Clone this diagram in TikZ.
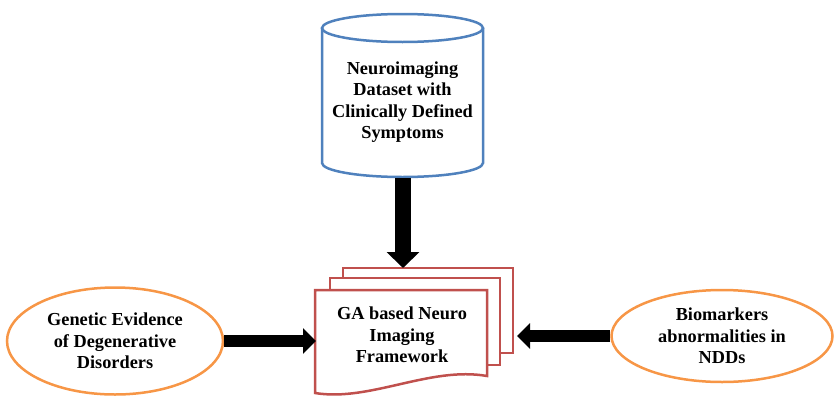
\documentclass[tikz,border=0pt]{standalone}
\usepackage{fontspec}
\setmainfont{Liberation Serif}
\usetikzlibrary{arrows.meta,shapes.geometric}
\definecolor{cblue}{HTML}{4F81BD}
\definecolor{corange}{HTML}{F79646}
\definecolor{cred}{HTML}{C0504D}
\begin{document}
\begin{tikzpicture}[x=1pt,y=-1pt,
  lbl/.style={font=\bfseries\fontsize{18.3}{21.5}\selectfont, align=center, text=black},
  oval/.style={ellipse, draw=corange, line width=2.5pt, fill=white, inner sep=0pt},
  vblock/.style={line width=16pt, -{Triangle[width=32pt, length=16pt]}},
  hblock/.style={line width=12pt, -{Triangle[width=25pt, length=13pt]}},
  ]
\useasboundingbox (0,0) rectangle (834,399);
% cylinder
\draw[cblue, line width=2.5pt, fill=white] (322,28) -- (322,163) arc[start angle=180, end angle=360, x radius=80.5, y radius=-14] -- (483,28);
\draw[cblue, line width=2.5pt, fill=white] (402.5,28) ellipse[x radius=80.5, y radius=14];
\node[lbl] (ds) at (402.5,102) {Neuroimaging\\Dataset with\\Clinically Defined\\Symptoms};
\coordinate (dsbot) at (403,178);
% multidocument
\draw[cred, line width=2.5pt, fill=white] (343,268) rectangle (513,353);
\draw[cred, line width=2.5pt, fill=white] (330,278) rectangle (500,365);
\draw[cred, line width=2.5pt, fill=white] (315,290) -- (487,290) -- (487,376) .. controls (430,366) and (370,402) .. (315,393) -- cycle;
\node[lbl] (fw) at (402,335) {GA based Neuro\\Imaging\\Framework};
\coordinate (fwtop) at (403,268);
\coordinate (fwleft) at (316,341);
\coordinate (fwright) at (517,336);
% ellipses
\node[oval, minimum width=216pt, minimum height=107pt] (ge) at (115,341) {};
\node[lbl] at (ge.center) {Genetic Evidence\\of Degenerative\\Disorders};
\node[oval, minimum width=221pt, minimum height=92pt] (bio) at (722,336) {};
\node[lbl] at (bio.center) {Biomarkers\\abnormalities in\\NDDs};
% arrows
\draw[vblock] (dsbot) -- (fwtop);
\draw[hblock] (ge.east) -- (fwleft);
\draw[hblock] (bio.west) -- (fwright);
\end{tikzpicture}
\end{document}
